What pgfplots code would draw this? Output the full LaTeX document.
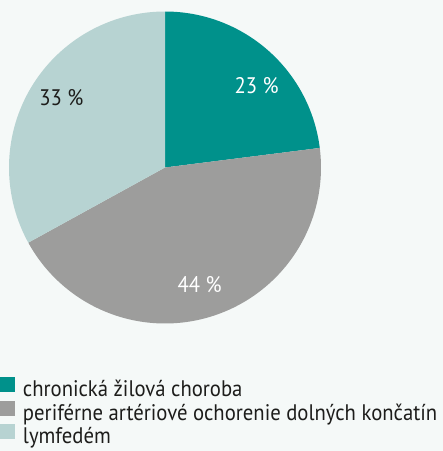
\documentclass[border=0pt]{standalone}
\usepackage{fontspec}
\setmainfont[FakeStretch=0.92]{PT Sans}
\usepackage{pgfplots}
\usepackage{pgfplotstable}
\pgfplotsset{compat=1.18}
\definecolor{bgc}{HTML}{F5F9F8}
\definecolor{cteal}{HTML}{00918B}
\definecolor{cgray}{HTML}{9D9D9C}
\definecolor{clight}{HTML}{B7D3D2}
\definecolor{ctext}{HTML}{1D1D1B}
\pgfplotstableread{
share
23
44
33
}\piedata
\pgfplotstablegetelem{0}{share}\of\piedata \let\vA\pgfplotsretval
\pgfplotstablegetelem{1}{share}\of\piedata \let\vB\pgfplotsretval
\pgfplotstablegetelem{2}{share}\of\piedata \let\vC\pgfplotsretval
\pgfmathsetmacro{\aO}{90}
\pgfmathsetmacro{\aA}{\aO-\vA*3.6}
\pgfmathsetmacro{\aB}{\aA-\vB*3.6}
\pgfmathsetmacro{\aC}{\aB-\vC*3.6}
\def\cx{165}
\def\cy{283.5}
\def\R{156}
\begin{document}
\begin{tikzpicture}
\begin{axis}[
  name=ax,
  x=1pt, y=1pt, xmin=0, xmax=443, ymin=0, ymax=451,
  scale only axis, hide axis, clip=false,
  legend cell align=left,
  legend image code/.code={\draw[#1, draw=none] (0pt,-0.7pt) rectangle (15pt,14.3pt); \path (23pt,0pt);},
  legend style={at={(axis cs:0,74)}, anchor=north west, draw=none, fill=none,
    inner sep=0pt, outer sep=0pt, row sep=-0.6pt,
    font=\fontsize{22.5}{26}\selectfont, text=ctext,
    nodes={inner xsep=0pt, inner ysep=0pt, text height=15pt, text depth=5pt}},
]
\fill[bgc] (axis cs:0,0) rectangle (axis cs:443,451);
\addplot[fill=cteal, draw=none, domain=\aA:\aO, samples=100, variable=\t]
  ({\cx+\R*cos(\t)},{\cy+\R*sin(\t)}) -- (axis cs:\cx,\cy) -- cycle;
\addlegendentry{chronická žilová choroba}
\addplot[fill=cgray, draw=none, domain=\aB:\aA, samples=120, variable=\t]
  ({\cx+\R*cos(\t)},{\cy+\R*sin(\t)}) -- (axis cs:\cx,\cy) -- cycle;
\addlegendentry{periférne artériové ochorenie dolných končatín}
\addplot[fill=clight, draw=none, domain=\aC:\aB, samples=100, variable=\t]
  ({\cx+\R*cos(\t)},{\cy+\R*sin(\t)}) -- (axis cs:\cx,\cy) -- cycle;
\addlegendentry{lymfedém}
\node[text=white, font=\fontsize{22.5}{26}\selectfont] at (axis cs:256.7,365.3) {\vA\ \%};
\node[text=white, font=\fontsize{22.5}{26}\selectfont] at (axis cs:199.7,166) {\vB\ \%};
\node[text=ctext, font=\fontsize{22.5}{26}\selectfont] at (axis cs:61.3,353.8) {\vC\ \%};
\end{axis}
\pgfresetboundingbox
\path[use as bounding box] (ax.south west) rectangle (ax.north east);
\end{tikzpicture}
\end{document}
